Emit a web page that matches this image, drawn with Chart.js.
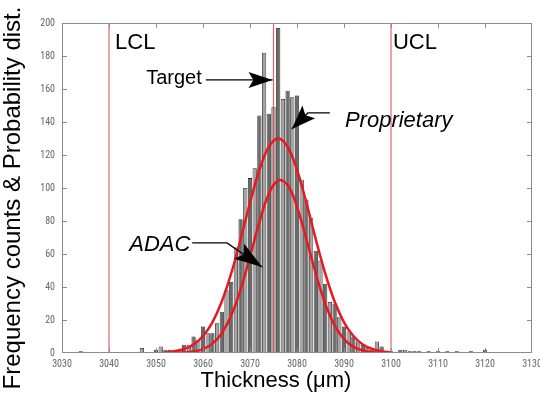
<!DOCTYPE html>
<html>
  <head>
    <title>Thickness histogram</title>
    <meta charset="UTF-8">
    <style>
      body { margin: 0; background: #fff; }
      #wrap { width: 540px; height: 400px; }
    </style>
  </head>
  <body>
    <div id="wrap"><canvas id="histChart" width="540" height="400"></canvas></div>
    <script src="https://cdn.jsdelivr.net/npm/chart.js/dist/chart.umd.min.js"></script>
    <script>
      // histogram: bin centre (um) and frequency count
      const bins   = [3034, 3047, 3050, 3051, 3052, 3053, 3054, 3055, 3056, 3057, 3058, 3059,
                      3060, 3061, 3062, 3063, 3064, 3065, 3066, 3067, 3068, 3069, 3070, 3071,
                      3072, 3073, 3074, 3075, 3076, 3077, 3078, 3079, 3080, 3081, 3082, 3083,
                      3084, 3085, 3086, 3087, 3088, 3089, 3090, 3091, 3092, 3093, 3094, 3095,
                      3096, 3097, 3098, 3100, 3102, 3103, 3104, 3105, 3106, 3108, 3110, 3112,
                      3114, 3117, 3120];
      const counts = [1, 3, 2, 4, 2, 2, 2, 2, 5, 5, 10, 8,
                      16, 12, 12, 18, 25, 38, 43, 64, 81, 100, 106, 112,
                      144, 182, 145, 149, 197, 154, 159, 155, 156, 105, 93, 82,
                      62, 56, 42, 31, 30, 22, 16, 13, 10, 7, 5, 3,
                      2, 7, 4, 1, 2, 2, 1, 1, 1, 1, 1, 1,
                      1, 1, 2];

      // fitted probability curves (scaled)
      const curveX      = [3052, 3054, 3056, 3058, 3060, 3062, 3064, 3066, 3068, 3070, 3072, 3074, 3076,
                           3078, 3080, 3082, 3084, 3086, 3088, 3090, 3092, 3094, 3096, 3098, 3100];
      const proprietary = [0.4, 1.1, 2.5, 5.2, 10.3, 18.6, 31.2, 48.2, 68.9, 91, 110.9, 124.9, 130,
                           124.9, 110.9, 91, 68.9, 48.2, 31.2, 18.6, 10.3, 5.2, 2.5, 1.1, 0.4];
      const adac        = [0, 0.1, 0.3, 0.9, 2.4, 5.7, 12, 22.7, 38.5, 58.4, 79.3, 96.3, 104.6,
                           101.8, 88.6, 69, 48.1, 30, 16.7, 8.4, 3.7, 1.5, 0.5, 0.2, 0];

      // control limits and target
      const LCL = 3040, TARGET = 3075, UCL = 3100;

      // axis ranges
      const xMin = 3030, xMax = 3130, xStep = 10;
      const yMin = 0, yMax = 200, yStep = 20;

      // text labels and arrows, in data units
      const notes = [
        { text: 'LCL', x: 3041.3, y: 184, italic: false, size: 22 },
        { text: 'UCL', x: 3100.4, y: 184, italic: false, size: 22 },
        { text: 'Target', x: 3047.9, y: 163, italic: false, size: 20 },
        { text: 'Proprietary', x: 3090.2, y: 137, italic: true, size: 22 },
        { text: 'ADAC', x: 3044.3, y: 62, italic: true, size: 22 }
      ];
      const arrows = [
        { pts: [[3060.6, 165.5], [3074.8, 165.5]], len: 24, half: 8 },
        { pts: [[3087.0, 145.5], [3082.3, 145.5], [3078.9, 135.8]], len: 24, half: 9 },
        { pts: [[3057.7, 66.7], [3065.1, 66.7], [3072.6, 52.1]], len: 28, half: 9 }
      ];

      const FONT = "'Liberation Sans', Arial, sans-serif";

      function vline(v) {
        return [{ x: v, y: yMin }, { x: v, y: yMax }];
      }

      function arrowHead(ctx, x0, y0, x1, y1, len, half) {
        const a = Math.atan2(y1 - y0, x1 - x0);
        ctx.save();
        ctx.translate(x1, y1);
        ctx.rotate(a);
        ctx.beginPath();
        ctx.moveTo(0, 0);
        ctx.lineTo(-len, -half);
        ctx.lineTo(-len * 0.8, 0);
        ctx.lineTo(-len, half);
        ctx.closePath();
        ctx.fill();
        ctx.restore();
      }

      // MATLAB style box with inward ticks, titles and the annotations
      const framePlugin = {
        id: 'frame',
        afterDraw(chart) {
          const ctx = chart.ctx;
          const a = chart.chartArea;
          const xs = chart.scales.x, ys = chart.scales.y;
          ctx.save();

          ctx.strokeStyle = '#8c8c8c';
          ctx.lineWidth = 1;
          ctx.strokeRect(a.left + 0.5, a.top + 0.5, a.right - a.left - 1, a.bottom - a.top - 1);
          ctx.beginPath();
          for (let v = xMin + xStep; v < xMax; v += xStep) {
            const px = Math.round(xs.getPixelForValue(v)) + 0.5;
            ctx.moveTo(px, a.bottom); ctx.lineTo(px, a.bottom - 5);
            ctx.moveTo(px, a.top); ctx.lineTo(px, a.top + 5);
          }
          for (let v = yMin + yStep; v < yMax; v += yStep) {
            const py = Math.round(ys.getPixelForValue(v)) + 0.5;
            ctx.moveTo(a.left, py); ctx.lineTo(a.left + 5, py);
            ctx.moveTo(a.right, py); ctx.lineTo(a.right - 5, py);
          }
          ctx.stroke();

          // axis titles
          ctx.fillStyle = '#000';
          ctx.font = '22px ' + FONT;
          ctx.textAlign = 'center';
          ctx.textBaseline = 'alphabetic';
          ctx.fillText('Thickness (\u03bcm)', 276, 387);
          ctx.save();
          ctx.translate(20, 198);
          ctx.rotate(-Math.PI / 2);
          ctx.font = '24px ' + FONT;
          ctx.fillText('Frequency counts & Probability dist.', 0, 0);
          ctx.restore();

          // annotations
          ctx.textAlign = 'left';
          notes.forEach(n => {
            ctx.font = (n.italic ? 'italic ' : '') + n.size + 'px ' + FONT;
            ctx.fillText(n.text, xs.getPixelForValue(n.x), ys.getPixelForValue(n.y));
          });
          ctx.strokeStyle = '#000';
          ctx.lineWidth = 1.3;
          arrows.forEach(ar => {
            const p = ar.pts.map(q => [xs.getPixelForValue(q[0]), ys.getPixelForValue(q[1])]);
            ctx.beginPath();
            ctx.moveTo(p[0][0], p[0][1]);
            for (let i = 1; i < p.length; i++) ctx.lineTo(p[i][0], p[i][1]);
            ctx.stroke();
            const n = p.length;
            arrowHead(ctx, p[n - 2][0], p[n - 2][1], p[n - 1][0], p[n - 1][1], ar.len, ar.half);
          });
          ctx.restore();
        }
      };

      const limitStyle = {
        type: 'line', borderColor: 'rgba(222, 70, 85, 0.85)', borderWidth: 1.2,
        pointRadius: 0, fill: false, order: 2
      };
      const curveStyle = {
        type: 'line', borderColor: '#e8191f', borderWidth: 2.5,
        pointRadius: 0, fill: false, tension: 0.4, order: 1
      };
      const tickFont = { family: "'Liberation Sans Narrow', 'Roboto Condensed', " + FONT, size: 10 };

      new Chart(document.getElementById('histChart'), {
        type: 'bar',
        data: {
          datasets: [
            {
              label: 'Counts',
              data: bins.map((b, i) => ({ x: b, y: counts[i] })),
              backgroundColor: ctx => (ctx.dataIndex % 2 ? '#a4a4a4' : '#6a6a6a'),
              borderColor: '#1e1e1e',
              borderWidth: 0.8,
              barPercentage: 0.9,
              categoryPercentage: 1,
              order: 3
            },
            Object.assign({ label: 'LCL', data: vline(LCL) }, limitStyle),
            Object.assign({ label: 'Target', data: vline(TARGET) }, limitStyle),
            Object.assign({ label: 'UCL', data: vline(UCL) }, limitStyle),
            Object.assign({ label: 'Proprietary', data: curveX.map((x, i) => ({ x: x, y: proprietary[i] })) }, curveStyle),
            Object.assign({ label: 'ADAC', data: curveX.map((x, i) => ({ x: x, y: adac[i] })) }, curveStyle)
          ]
        },
        options: {
          responsive: false,
          animation: false,
          layout: { padding: { top: 23, right: 8, left: 0, bottom: 0 } },
          plugins: { legend: { display: false }, tooltip: { enabled: false } },
          scales: {
            x: {
              type: 'linear', min: xMin, max: xMax, offset: false,
              grid: { display: false, drawTicks: false, offset: false },
              border: { display: false },
              ticks: {
                stepSize: xStep, padding: 5, maxRotation: 0, autoSkip: false,
                color: '#666', font: tickFont,
                callback: v => String(v)
              },
              afterFit: s => { s.height = 47; s.paddingLeft = 0; s.paddingRight = 0; }
            },
            y: {
              min: yMin, max: yMax,
              grid: { display: false, drawTicks: false },
              border: { display: false },
              ticks: {
                stepSize: yStep, padding: 7,
                color: '#666', font: tickFont,
                callback: v => String(v)
              },
              afterFit: s => { s.width = 62; s.paddingTop = 0; s.paddingBottom = 0; }
            }
          }
        },
        plugins: [framePlugin]
      });
    </script>
  </body>
</html>
